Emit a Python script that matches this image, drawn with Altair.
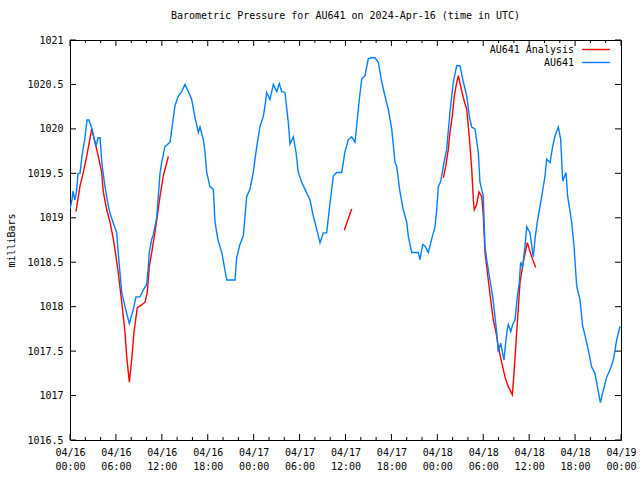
import altair as alt
import pandas as pd

TITLE = "Barometric Pressure for AU641 on 2024-Apr-16 (time in UTC)"
Y_TITLE = "milliBars"
SERIES = ["AU641 Analysis", "AU641"]
COLORS = ["#ff0000", "#0080ff"]
FONT = "DejaVu Sans Mono"

# hours since 2024-04-16 00:00 UTC
obs_hours = [0, 0.26, 0.39, 0.65, 0.85, 1.05, 1.31, 1.57, 1.96, 2.22, 2.48, 2.87, 3.27, 3.40,
             3.66, 3.92, 4.18, 4.57, 4.97, 5.23, 5.62, 6.10, 6.31, 6.53, 6.76, 7.19, 7.75,
             8.27, 8.62, 9.15, 9.58, 10.02, 10.23, 10.36, 10.68, 10.88, 11.33, 11.50, 11.76,
             11.98, 12.41, 13.07, 13.29, 13.72, 14.15, 14.60, 15.03, 15.46, 15.90, 16.33,
             16.77, 16.99, 17.42, 17.64, 17.86, 18.29, 18.73, 18.95, 19.34, 19.86, 20.48,
             21.56, 21.78, 22.21, 22.65, 23.09, 23.52, 23.95, 24.40, 24.83, 25.26, 25.48,
             25.70, 26.13, 26.57, 27.01, 27.35, 27.66, 28.09, 28.53, 28.75, 29.18, 29.53,
             29.83, 30.28, 30.71, 31.36, 31.79, 32.24, 32.67, 33.10, 33.54, 33.98, 34.41,
             34.85, 35.50, 35.93, 36.37, 36.81, 37.24, 37.46, 37.80, 38.12, 38.55, 38.98,
             39.42, 39.85, 40.29, 40.73, 41.16, 41.59, 42.04, 42.47, 42.69, 43.12, 43.55,
             44.00, 44.21, 44.65, 45.51, 45.73, 46.09, 46.39, 46.82, 47.26, 47.70, 47.92,
             48.13, 48.44, 48.87, 49.22, 49.65, 50.09, 50.53, 50.96, 51.39, 51.84, 52.18,
             52.49, 52.92, 53.35, 53.57, 54.01, 54.10, 54.23, 54.45, 54.88, 55.24, 55.53,
             55.76, 55.96, 56.28, 56.71, 56.97, 57.14, 57.27, 57.59, 57.85, 58.15, 58.45,
             58.71, 58.89, 59.15, 59.41, 59.68, 60.11, 60.54, 60.76, 61.06, 61.64, 62.07,
             62.29, 62.72, 63.07, 63.37, 63.81, 64.12, 64.38, 64.81, 65.03, 65.56, 65.86,
             66.21, 66.64, 66.99, 67.29, 67.73, 68.17, 68.60, 68.91, 69.30, 69.69, 70.14,
             70.57, 71.00, 71.44, 71.87]
obs_mb = [1019.1, 1019.2, 1019.3, 1019.2, 1019.3, 1019.5, 1019.5, 1019.7, 1019.9, 1020.1,
          1020.1, 1020.0, 1019.85, 1019.8, 1019.9, 1019.9, 1019.6, 1019.35, 1019.15, 1019.05,
          1018.95, 1018.83, 1018.6, 1018.38, 1018.16, 1018.0, 1017.81, 1017.97, 1018.11,
          1018.11, 1018.19, 1018.25, 1018.45, 1018.61, 1018.76, 1018.81, 1019.0, 1019.2,
          1019.5, 1019.62, 1019.8, 1019.85, 1019.99, 1020.26, 1020.37, 1020.42, 1020.5,
          1020.42, 1020.33, 1020.13, 1019.96, 1020.02, 1019.88, 1019.74, 1019.51, 1019.35,
          1019.32, 1018.95, 1018.75, 1018.6, 1018.3, 1018.3, 1018.55, 1018.7, 1018.8,
          1019.24, 1019.32, 1019.51, 1019.8, 1020.03, 1020.14, 1020.26, 1020.41, 1020.33,
          1020.5, 1020.42, 1020.51, 1020.42, 1020.41, 1020.07, 1019.83, 1019.91, 1019.74,
          1019.51, 1019.4, 1019.32, 1019.2, 1019.02, 1018.87, 1018.72, 1018.83, 1018.83,
          1019.17, 1019.47, 1019.51, 1019.51, 1019.74, 1019.88, 1019.91, 1019.85, 1020.03,
          1020.33, 1020.56, 1020.6, 1020.79, 1020.8, 1020.8, 1020.75, 1020.53, 1020.37,
          1020.22, 1020.0, 1019.62, 1019.58, 1019.29, 1019.09, 1018.95, 1018.79, 1018.61,
          1018.61, 1018.53, 1018.7, 1018.68, 1018.61, 1018.76, 1018.9, 1019.09, 1019.35,
          1019.41, 1019.62, 1019.77, 1020.19, 1020.53, 1020.71, 1020.71, 1020.53, 1020.37,
          1020.14, 1020.02, 1020.0, 1019.74, 1019.4, 1019.24, 1018.98, 1018.68, 1018.53,
          1018.3, 1018.11, 1017.89, 1017.71, 1017.49, 1017.59, 1017.4, 1017.63, 1017.74,
          1017.8, 1017.72, 1017.8, 1017.85, 1018.11, 1018.27, 1018.5, 1018.45, 1018.64,
          1018.9, 1018.83, 1018.56, 1018.76, 1018.95, 1019.24, 1019.47, 1019.66, 1019.62,
          1019.8, 1019.92, 1020.02, 1019.88, 1019.41, 1019.51, 1019.24, 1018.95, 1018.68,
          1018.23, 1018.08, 1017.78, 1017.68, 1017.51, 1017.32, 1017.25, 1017.1, 1016.92,
          1017.06, 1017.21, 1017.29, 1017.4, 1017.63, 1017.78]

ana_hours = [0.78, 1.31, 1.74, 2.18, 2.84, 3.27, 3.70, 4.14, 4.35, 4.80, 5.23, 5.66, 5.88,
             6.31, 6.76, 7.19, 7.41, 7.75, 8.06, 8.36, 8.79, 9.37, 9.80, 10.10, 10.36, 10.68,
             11.02, 11.33, 11.76, 12.19, 12.85,
             35.84, 36.81,
             48.78, 49.10, 49.43, 49.65, 49.96, 50.22, 50.53, 50.74, 51.05, 51.39, 51.84,
             52.05, 52.27, 52.49, 52.70, 52.83, 53.14, 53.44, 53.80, 54.01, 54.23, 54.66,
             54.97, 55.31, 55.67, 55.96, 56.41, 56.84, 57.27, 57.80, 58.02, 58.37, 58.80,
             59.23, 59.76, 60.33, 60.86]
ana_mb = [1019.07, 1019.36, 1019.51, 1019.69, 1020.0, 1019.85, 1019.69, 1019.51, 1019.29,
          1019.09, 1018.95, 1018.76, 1018.64, 1018.38, 1018.05, 1017.71, 1017.44, 1017.15,
          1017.4, 1017.71, 1017.99, 1018.02, 1018.05, 1018.16, 1018.45, 1018.61, 1018.79,
          1018.97, 1019.24, 1019.47, 1019.69,
          1018.86, 1019.1,
          1019.45, 1019.58, 1019.77, 1019.96, 1020.15, 1020.37, 1020.52, 1020.6, 1020.48,
          1020.35, 1020.22, 1020.03, 1019.81, 1019.55, 1019.21, 1019.09, 1019.15, 1019.29,
          1019.24, 1019.02, 1018.61, 1018.3, 1018.08, 1017.85, 1017.71, 1017.55, 1017.37,
          1017.21, 1017.1, 1017.01, 1017.25, 1017.71, 1018.27, 1018.5, 1018.72, 1018.56,
          1018.44]
ana_seg = [1] * 31 + [2] * 2 + [3] * 37

x_major = [0, 6, 12, 18, 24, 30, 36, 42, 48, 54, 60, 66, 72]
x_minor = [2, 4, 8, 10, 14, 16, 20, 22, 26, 28, 32, 34, 38, 40, 44, 46, 50, 52, 56, 58,
           62, 64, 68, 70]
y_ticks = [1016.5, 1017, 1017.5, 1018, 1018.5, 1019, 1019.5, 1020, 1020.5, 1021]

W, H = 551, 400

obs = pd.DataFrame({"h": obs_hours, "mb": obs_mb})
ana = pd.DataFrame({"h": ana_hours, "mb": ana_mb, "seg": ana_seg})
xmaj = pd.DataFrame({"h": x_major})
xmin = pd.DataFrame({"h": x_minor})
ytk = pd.DataFrame({"mb": y_ticks})

x_axis = alt.Axis(
    values=x_major,
    labelExpr="['04/' + (16 + floor(datum.value / 24)), "
              "(datum.value % 24 < 10 ? '0' : '') + (datum.value % 24) + ':00']",
    ticks=False, tickSize=0, domain=False, grid=False, title=None,
    labelFont=FONT, labelFontSize=10, labelColor="black", labelPadding=7,
    labelLineHeight=14, labelFlush=False, labelOverlap=False, labelBaseline="top",
)
y_axis = alt.Axis(
    values=y_ticks, labelExpr="'' + datum.value",
    ticks=False, tickSize=0, domain=False, grid=False, title=Y_TITLE,
    labelFont=FONT, labelFontSize=10, labelColor="black", labelPadding=7,
    labelFlush=False, labelOverlap=False,
    titleFont=FONT, titleFontSize=10, titleFontWeight="normal", titleColor="black",
    titlePadding=10,
)

X = alt.X("h:Q", scale=alt.Scale(domain=[0, 72], nice=False, zero=False), axis=x_axis)
Y = alt.Y("mb:Q", scale=alt.Scale(domain=[1016.5, 1021], nice=False, zero=False), axis=y_axis)

red = alt.Chart(ana).mark_line(color=COLORS[0], strokeWidth=1.4, clip=True).encode(
    x=X, y=Y, detail="seg:N")
blue = alt.Chart(obs).mark_line(color=COLORS[1], strokeWidth=1.4, clip=True).encode(x=X, y=Y)

tick_c = "black"
xt_bot_maj = alt.Chart(xmaj).mark_rule(color=tick_c, strokeWidth=1).encode(
    x=X, y=alt.value(H), y2=alt.value(H - 6))
xt_top_maj = alt.Chart(xmaj).mark_rule(color=tick_c, strokeWidth=1).encode(
    x=X, y=alt.value(0), y2=alt.value(6))
xt_bot_min = alt.Chart(xmin).mark_rule(color=tick_c, strokeWidth=1).encode(
    x=X, y=alt.value(H), y2=alt.value(H - 3))
xt_top_min = alt.Chart(xmin).mark_rule(color=tick_c, strokeWidth=1).encode(
    x=X, y=alt.value(0), y2=alt.value(3))
yt_left = alt.Chart(ytk).mark_rule(color=tick_c, strokeWidth=1).encode(
    y=Y, x=alt.value(0), x2=alt.value(6))
yt_right = alt.Chart(ytk).mark_rule(color=tick_c, strokeWidth=1).encode(
    y=Y, x=alt.value(W - 6), x2=alt.value(W))

# gnuplot-style key: label then line sample, top right inside the plot
key = []
for i, (name, col) in enumerate(zip(SERIES, COLORS)):
    yy = 10 + 13 * i
    kd = pd.DataFrame({"name": [name]})
    key.append(alt.Chart(kd).mark_text(
        align="right", baseline="middle", font=FONT, fontSize=10, color="black").encode(
        x=alt.value(504), y=alt.value(yy), text="name:N"))
    key.append(alt.Chart(kd).mark_rule(color=col, strokeWidth=1.4).encode(
        x=alt.value(512), x2=alt.value(540), y=alt.value(yy - 0.5)))

chart = alt.layer(
    xt_bot_maj, xt_top_maj, xt_bot_min, xt_top_min, yt_left, yt_right,
    red, blue, *key,
).properties(
    width=W, height=H,
    title=alt.Title(TITLE, font=FONT, fontSize=10, fontWeight="normal",
                    color="black", anchor="middle", offset=14),
    autosize="none",
    padding={"left": 70, "top": 40, "right": 19, "bottom": 40},
    background="white",
).configure_view(stroke="black", strokeWidth=1)

chart.save("out.html", embed_options={"renderer": "svg", "actions": False})
